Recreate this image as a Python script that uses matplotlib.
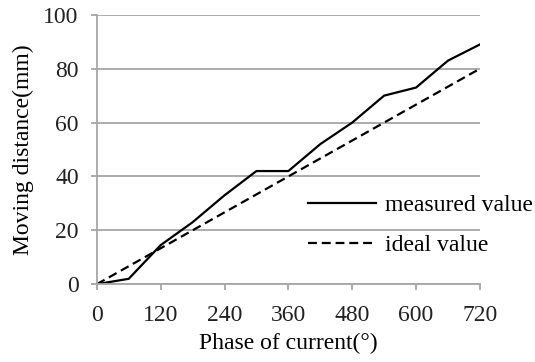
import matplotlib.pyplot as plt
import numpy as np

faza = [0, 60, 120, 180, 240, 300, 360, 420, 480, 540, 600, 660, 720]
zmierzone = [0, 2, 14.5, 23, 33, 42, 42, 52, 60, 70, 73, 83, 89]
idealne_x = [0, 720]
idealne_y = [0, 80]

plt.rcParams['font.family'] = ['Liberation Serif', 'DejaVu Serif']
plt.rcParams['font.size'] = 17

fig = plt.figure(figsize=(5.35, 3.62), dpi=100)
ax = fig.add_axes([0.181, 0.215, 0.716, 0.744])

ax.plot(faza, zmierzone, color='black', lw=1.6, label='measured value')
ax.plot(idealne_x, idealne_y, color='black', lw=1.6, ls=(0, (4, 2.2)), label='ideal value')

ax.set_xlim(0, 720)
ax.set_ylim(0, 100)
ax.set_xticks(np.arange(0, 721, 120))
ax.set_yticks(np.arange(0, 101, 20))
ax.yaxis.grid(True, color='#a6a6a6', lw=1.3)
ax.set_axisbelow(True)
for s in ['top', 'right']:
    ax.spines[s].set_visible(False)
for s in ['left', 'bottom']:
    ax.spines[s].set_color('#a6a6a6')
    ax.spines[s].set_linewidth(1.3)
ax.tick_params(color='#a6a6a6', width=1.3, length=4, colors='#222222')
ax.tick_params(axis='x', pad=11)
ax.tick_params(axis='y', pad=9)

ax.set_xlabel('Phase of current(°)', labelpad=5)
ax.set_ylabel('Moving distance(mm)', labelpad=7)

ax.legend(loc='center left', bbox_to_anchor=(0.551, 0.219), frameon=False,
          handlelength=2.9, handletextpad=0.35, labelspacing=0.78,
          borderaxespad=0, borderpad=0)

plt.savefig('out.png', dpi=100)
